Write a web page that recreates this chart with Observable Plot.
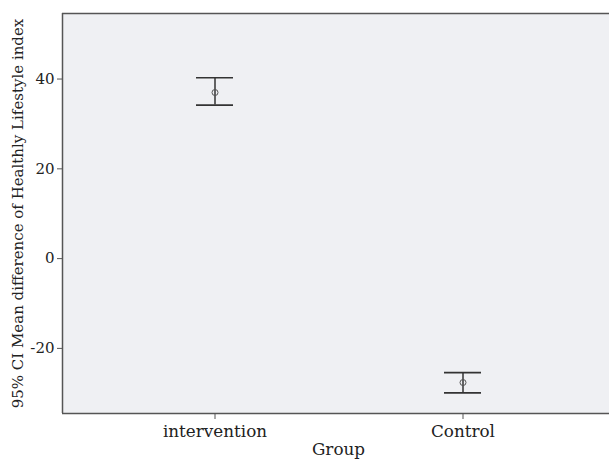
<!DOCTYPE html>
<html><head><meta charset="utf-8">
<script src="https://cdn.jsdelivr.net/npm/d3@7"></script>
<script src="https://cdn.jsdelivr.net/npm/@observablehq/plot@0.6"></script>
<style>
html,body{margin:0;padding:0;background:#fff;overflow:hidden;}
#chart{width:609px;height:460px;overflow:hidden;position:relative;}
#chart svg{display:block;max-width:none;position:absolute;left:0;top:0;}
</style></head>
<body><div id="chart"></div>
<script>
const groups = ["intervention", "Control"];
const means = [37.0, -27.6];
const lower = [34.2, -29.9];
const upper = [40.3, -25.4];
const yTicks = [-20, 0, 20, 40];
const yDomain = [-34.5, 54.6];

const data = groups.map((g, i) => ({group: g, mean: means[i], lo: lower[i], hi: upper[i]}));
const font = "'DejaVu Serif', 'Liberation Serif', serif";

function leftEdge(index, scales, values, dimensions) {
  const {marginLeft, marginTop, marginBottom, height} = dimensions;
  const line = document.createElementNS("http://www.w3.org/2000/svg", "line");
  line.setAttribute("x1", marginLeft + 0.5);
  line.setAttribute("x2", marginLeft + 0.5);
  line.setAttribute("y1", marginTop);
  line.setAttribute("y2", height - marginBottom);
  line.setAttribute("stroke", "#555");
  line.setAttribute("stroke-width", 1.5);
  return line;
}

const chart = Plot.plot({
  width: 640,
  height: 460,
  marginLeft: 62,
  marginRight: 26,
  marginTop: 13,
  marginBottom: 47,
  style: {fontFamily: font, fontSize: "15px", color: "#222", background: "#fff", maxWidth: "none", width: "640px"},
  x: {type: "band", domain: groups, paddingInner: 0.851, paddingOuter: 0.538},
  y: {domain: yDomain},
  marks: [
    Plot.frame({fill: "#eff0f3", stroke: "none"}),
    Plot.ruleY(yDomain, {stroke: "#555", strokeWidth: 1.5}),
    leftEdge,
    Plot.axisY({ticks: yTicks, tickFormat: d => String(d), tickSize: 5, tickPadding: 3, label: "95% CI Mean difference of Healthly Lifestyle index", labelAnchor: "center", labelArrow: "none", labelOffset: 50, fontSize: 15, stroke: "#555"}),
    Plot.axisX({tickSize: 6, tickPadding: 6, label: "Group", labelAnchor: "center", labelArrow: "none", labelOffset: 41, fontSize: 16.8, stroke: "#555"}),
    Plot.ruleX(data, {x: "group", y1: "lo", y2: "hi", stroke: "#333", strokeWidth: 1.5}),
    Plot.tickY(data, {x: "group", y: "lo", stroke: "#333", strokeWidth: 1.6}),
    Plot.tickY(data, {x: "group", y: "hi", stroke: "#333", strokeWidth: 1.6}),
    Plot.dot(data, {x: "group", y: "mean", r: 3, stroke: "#555", strokeWidth: 1, fill: "none"})
  ]
});
document.getElementById("chart").appendChild(chart);
</script></body></html>
